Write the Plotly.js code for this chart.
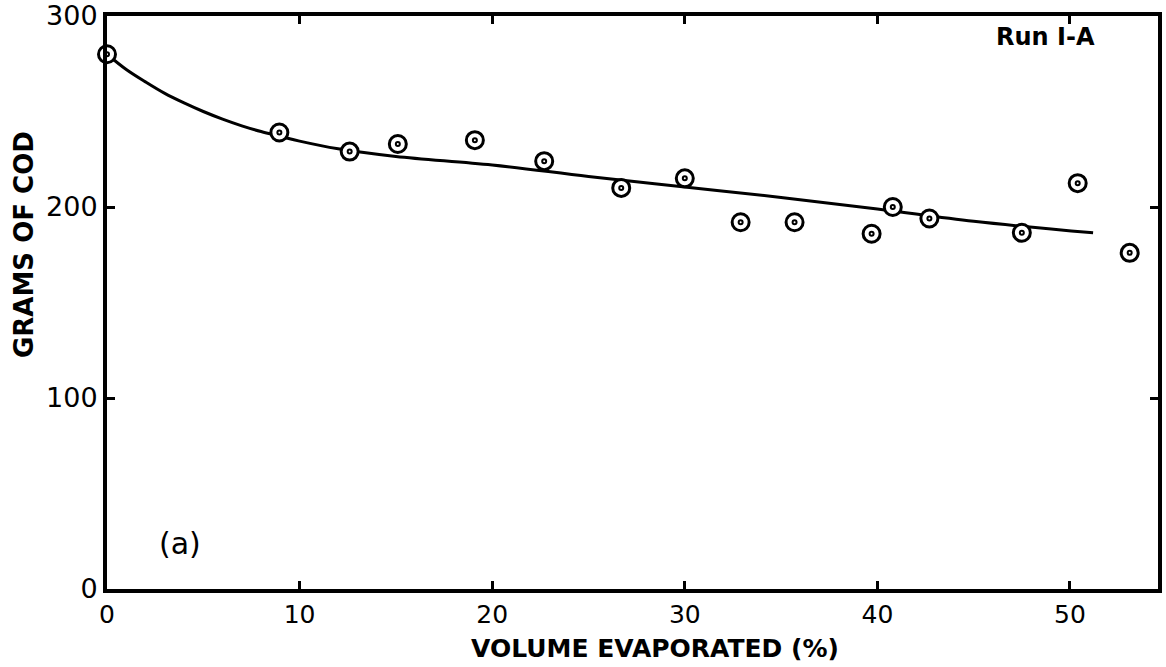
<!DOCTYPE html>
<html>
<head>
<meta charset="utf-8">
<script src="https://cdn.plot.ly/plotly-3.0.1.min.js"></script>
<style>html,body{margin:0;padding:0;background:#fff;}#chart{width:1166px;height:667px;}</style>
</head>
<body>
<div id="chart"></div>
<script>
// Measured data points: volume evaporated (%) vs grams of COD
const volumeEvaporated = [0, 8.95, 12.6, 15.1, 19.1, 22.7, 26.7, 30.0, 32.9, 35.7, 39.7, 40.8, 42.7, 47.5, 50.4, 53.1];
const gramsCOD        = [280, 239, 229, 233, 235, 224, 210, 215, 192, 192, 186, 200, 194, 186.5, 212.5, 176];

// Fitted curve drawn through the data
const curveX = [0, 1, 2, 3, 4, 5, 6, 7, 8, 9, 10, 12, 15, 20, 25, 30, 35, 40, 45, 51.2];
const curveY = [280, 272, 265.5, 259.5, 254.5, 250, 246, 242.5, 239.5, 237, 234.5, 230.5, 226.5, 222, 216, 210.5, 205, 199, 192.5, 186.5];

const xTicks = [0, 10, 20, 30, 40, 50];
const yTicks = [0, 100, 200, 300];

const xTitle = 'VOLUME EVAPORATED (%)';
const yTitle = 'GRAMS OF COD';

const FONT = "DejaVu Sans, Arial, sans-serif";

const traces = [
  {
    x: curveX, y: curveY, type: 'scatter', mode: 'lines',
    line: {color: '#000', width: 3, shape: 'spline', smoothing: 1},
    hoverinfo: 'skip', cliponaxis: false
  },
  {
    x: volumeEvaporated, y: gramsCOD, type: 'scatter', mode: 'markers',
    marker: {symbol: 'circle', size: 17, color: '#fff', line: {color: '#000', width: 3}},
    cliponaxis: false
  },
  {
    x: volumeEvaporated, y: gramsCOD, type: 'scatter', mode: 'markers',
    marker: {symbol: 'circle-open', size: 4, color: '#000', line: {color: '#000', width: 2}},
    cliponaxis: false
  }
];

const layout = {
  width: 1166, height: 667,
  margin: {l: 107, r: 8, t: 16, b: 78},
  paper_bgcolor: '#fff', plot_bgcolor: '#fff',
  showlegend: false,
  font: {family: FONT, color: '#000', size: 24},
  xaxis: {
    range: [0, 54.57], tickmode: 'array', tickvals: xTicks, ticktext: xTicks.map(String),
    showgrid: false, zeroline: false, showline: true, linecolor: '#000', linewidth: 4,
    mirror: 'ticks', ticks: 'inside', ticklen: 8, tickwidth: 3, tickcolor: '#000',
    tickfont: {family: FONT, size: 25, color: '#000'},
    title: {text: ''}
  },
  yaxis: {
    range: [0, 300], tickmode: 'array', tickvals: yTicks, ticktext: yTicks.map(String),
    showgrid: false, zeroline: false, showline: true, linecolor: '#000', linewidth: 4,
    mirror: 'ticks', ticks: 'inside', ticklen: 8, tickwidth: 3, tickcolor: '#000',
    tickfont: {family: FONT, size: 27, color: '#000'},
    title: {text: ''}
  },
  annotations: [
    {xref: 'paper', yref: 'paper', x: (655 - 107) / 1051, y: -(648 - 589) / 573, xanchor: 'center', yanchor: 'middle',
     text: '<b>' + xTitle + '</b>', showarrow: false, font: {family: FONT, size: 25, color: '#000'}},
    {xref: 'paper', yref: 'paper', x: (24 - 107) / 1051, y: (589 - 245) / 573, xanchor: 'center', yanchor: 'middle',
     textangle: -90, text: '<b>' + yTitle + '</b>', showarrow: false, font: {family: FONT, size: 26, color: '#000'}},
    {xref: 'paper', yref: 'paper', x: (1045 - 107) / 1051, y: (589 - 37) / 573, xanchor: 'center', yanchor: 'middle',
     text: '<b>Run I-A</b>', showarrow: false, font: {family: FONT, size: 24, color: '#000'}},
    {xref: 'paper', yref: 'paper', x: (180 - 107) / 1051, y: (589 - 543) / 573, xanchor: 'center', yanchor: 'middle',
     text: '(a)', showarrow: false, font: {family: FONT, size: 30, color: '#000'}}
  ]
};

Plotly.newPlot('chart', traces, layout, {displayModeBar: false, staticPlot: true});
</script>
</body>
</html>
